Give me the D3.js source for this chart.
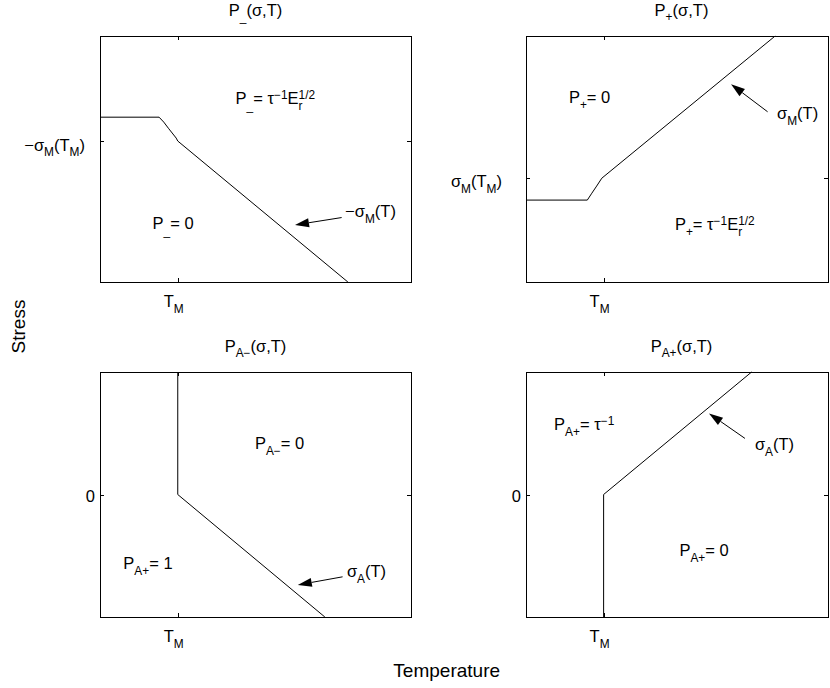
<!DOCTYPE html>
<html lang="en">
<head>
<meta charset="UTF-8">
<script src="https://cdn.jsdelivr.net/npm/d3@7"></script>
<title>Phase boundaries</title>
<style>
body { margin: 0; background: #fff; }
text { white-space: pre; fill: #000; }
</style>
</head>
<body>
<script>
// boundary curves, temperature (0..10) vs stress
var minusT = [0, 1.9, 2.05, 2.2, 2.45, 2.5, 7.97];
var minusS = [6.7, 6.7, 6.5, 6.25, 5.85, 5.73, 0];
var plusT = [0, 2.03, 2.18, 2.34, 2.51, 8.25];
var plusS = [3.33, 3.33, 3.61, 3.9, 4.22, 10];
var aMinusT = [2.5, 2.5, 7.23];
var aMinusS = [5, 0, -5];
var aPlusT = [2.57, 2.57, 7.47];
var aPlusS = [-5, 0, 5];

// tick values and labels
var tmLeft = 2.5, tmRight = 2.57;
var xTickLabel = "T_M";
var yTicks = [5.73, 4.22, 0, 0];
var yTickLabels = ["−σ_M(T_M)", "σ_M(T_M)", "0", "0"];
var titles = ["P_{_}(σ,T)", "P_+(σ,T)", "P_{A−}(σ,T)", "P_{A+}(σ,T)"];

var width = 830, height = 688;
var fs = 16.5;

var svg = d3.select("body").append("svg")
    .attr("width", width).attr("height", height)
    .style("font-family", "'Liberation Sans', Arial, sans-serif");

// tiny TeX-ish parser: _x / ^x / _{..} / ^{..}
function parseTex(s) {
    var parts = [], buf = "", i = 0;
    while (i < s.length) {
        var c = s[i];
        if (c === "_" || c === "^") {
            var arg;
            if (s[i + 1] === "{") {
                var j = s.indexOf("}", i + 2);
                arg = s.slice(i + 2, j);
                i = j + 1;
            } else {
                arg = s[i + 1];
                i += 2;
            }
            var prev = parts[parts.length - 1];
            var stack = buf === "" && prev && prev.m !== 0;
            if (buf) { parts.push({t: buf, m: 0}); buf = ""; }
            parts.push({t: arg, m: c === "_" ? -1 : 1, stack: stack});
        } else {
            buf += c;
            i++;
        }
    }
    if (buf) parts.push({t: buf, m: 0});
    return parts;
}

function rich(parent, str, x, y, size, anchor) {
    var parts = parseTex(str);
    var grp = parent.append("g");
    var cx = 0, lastStart = 0;
    parts.forEach(function(p){
        var start = p.stack ? lastStart : cx;
        var t = grp.append("text")
            .attr("x", start)
            .attr("y", p.m < 0 ? size * 0.36 : p.m > 0 ? -size * 0.32 : 0)
            .attr("font-size", p.m ? size * 0.72 : size)
            .text(p.t);
        var w = t.node().getComputedTextLength();
        cx = p.stack ? Math.max(cx, start + w) : start + w;
        lastStart = start;
    });
    var off = anchor === "middle" ? -cx / 2 : anchor === "end" ? -cx : 0;
    grp.attr("transform", "translate(" + (x + off) + "," + y + ")");
    return grp;
}

var panels = [
    {left: 100, top: 36, w: 311, h: 246, yDom: [0, 10], T: minusT, S: minusS, xTick: tmLeft,
     yGap: 15, yDy: 9.5,
     regions: [["P_{_}= τ^{−1}E_r^{1/2}", 4.36, 7.24], ["P_{_}= 0", 1.69, 2.15]],
     arrow: {x1: 7.77, y1: 2.62, x2: 6.27, y2: 2.32, label: "−σ_M(T)", lx: 7.88, ly: 2.64}},
    {left: 526, top: 36, w: 302, h: 246, yDom: [0, 10], T: plusT, S: plusS, xTick: tmRight,
     yGap: 24, yDy: 8.5,
     regions: [["P_+= 0", 1.42, 7.26], ["P_+= τ^{−1}E_r^{1/2}", 4.93, 2.11]],
     arrow: {x1: 8.0, y1: 6.92, x2: 6.79, y2: 8.04, label: "σ_M(T)", lx: 8.31, ly: 6.63}},
    {left: 100, top: 372, w: 311, h: 245, yDom: [-5, 5], T: aMinusT, S: aMinusS, xTick: tmLeft,
     yGap: 5, yDy: 7,
     regions: [["P_{A−}= 0", 4.98, 1.84], ["P_{A+}= 1", 0.75, -3.05]],
     arrow: {x1: 7.8, y1: -3.36, x2: 6.36, y2: -3.69, label: "σ_A(T)", lx: 7.94, ly: -3.37}},
    {left: 526, top: 372, w: 302, h: 245, yDom: [-5, 5], T: aPlusT, S: aPlusS, xTick: tmRight,
     yGap: 5, yDy: 7,
     regions: [["P_{A+}= τ^{−1}", 0.93, 2.63], ["P_{A+}= 0", 5.08, -2.5]],
     arrow: {x1: 7.25, y1: 2.29, x2: 6.06, y2: 3.31, label: "σ_A(T)", lx: 7.58, ly: 1.82}}
];

panels.forEach(function(p, k){
    var x = d3.scaleLinear().domain([0, 10]).range([p.left, p.left + p.w]);
    var y = d3.scaleLinear().domain(p.yDom).range([p.top + p.h, p.top]);
    var g = svg.append("g");

    // ticks (inward, all four sides)
    function noDomain(a){ a.select(".domain").remove(); }
    g.append("g").attr("transform", "translate(0," + (p.top + p.h) + ")")
        .call(d3.axisBottom(x).tickValues([p.xTick]).tickSize(-4).tickFormat("")).call(noDomain);
    g.append("g").attr("transform", "translate(0," + p.top + ")")
        .call(d3.axisTop(x).tickValues([p.xTick]).tickSize(-4).tickFormat("")).call(noDomain);
    g.append("g").attr("transform", "translate(" + p.left + ",0)")
        .call(d3.axisLeft(y).tickValues([yTicks[k]]).tickSize(-4).tickFormat("")).call(noDomain);
    g.append("g").attr("transform", "translate(" + (p.left + p.w) + ",0)")
        .call(d3.axisRight(y).tickValues([yTicks[k]]).tickSize(-4).tickFormat("")).call(noDomain);
    g.selectAll(".tick line").attr("stroke", "#000").attr("shape-rendering", "crispEdges");

    g.append("rect")
        .attr("x", p.left).attr("y", p.top)
        .attr("width", p.w).attr("height", p.h)
        .attr("fill", "none").attr("stroke", "#000")
        .attr("shape-rendering", "crispEdges");

    // boundary curve
    var pts = p.T.map(function(t, i){ return [t, p.S[i]]; });
    g.append("path")
        .attr("d", d3.line().x(function(d){ return x(d[0]); }).y(function(d){ return y(d[1]); })(pts))
        .attr("fill", "none").attr("stroke", "#000").attr("stroke-width", 1);

    // tick labels
    rich(g, xTickLabel, x(p.xTick) - 4, p.top + p.h + 25, fs, "middle");
    rich(g, yTickLabels[k], p.left - p.yGap, y(yTicks[k]) + p.yDy, fs, "end");

    // title
    rich(g, titles[k], p.left + 155.5, p.top - 20.5, fs, "middle");

    // region labels
    p.regions.forEach(function(r){
        rich(g, r[0], x(r[1]), y(r[2]), fs, "start");
    });

    // arrow
    var a = p.arrow;
    var x1 = x(a.x1), y1 = y(a.y1), x2 = x(a.x2), y2 = y(a.y2);
    var ang = Math.atan2(y2 - y1, x2 - x1);
    var hl = 14, hw = 4.5;
    var bx = x2 - hl * Math.cos(ang), by = y2 - hl * Math.sin(ang);
    g.append("line")
        .attr("x1", x1).attr("y1", y1).attr("x2", bx).attr("y2", by)
        .attr("stroke", "#000").attr("stroke-width", 1);
    g.append("polygon")
        .attr("points", [
            [x2, y2],
            [bx + hw * Math.sin(ang), by - hw * Math.cos(ang)],
            [bx - hw * Math.sin(ang), by + hw * Math.cos(ang)]
        ].map(function(d){ return d.join(","); }).join(" "))
        .attr("fill", "#000");
    rich(g, a.label, x(a.lx), y(a.ly), fs, "start");
});

// shared axis labels
svg.append("text")
    .attr("transform", "translate(25,326.5) rotate(-90)")
    .attr("text-anchor", "middle")
    .attr("font-size", 19)
    .text("Stress");

svg.append("text")
    .attr("x", 446.7).attr("y", 677.3)
    .attr("text-anchor", "middle")
    .attr("font-size", 19)
    .text("Temperature");
</script>
</body>
</html>
